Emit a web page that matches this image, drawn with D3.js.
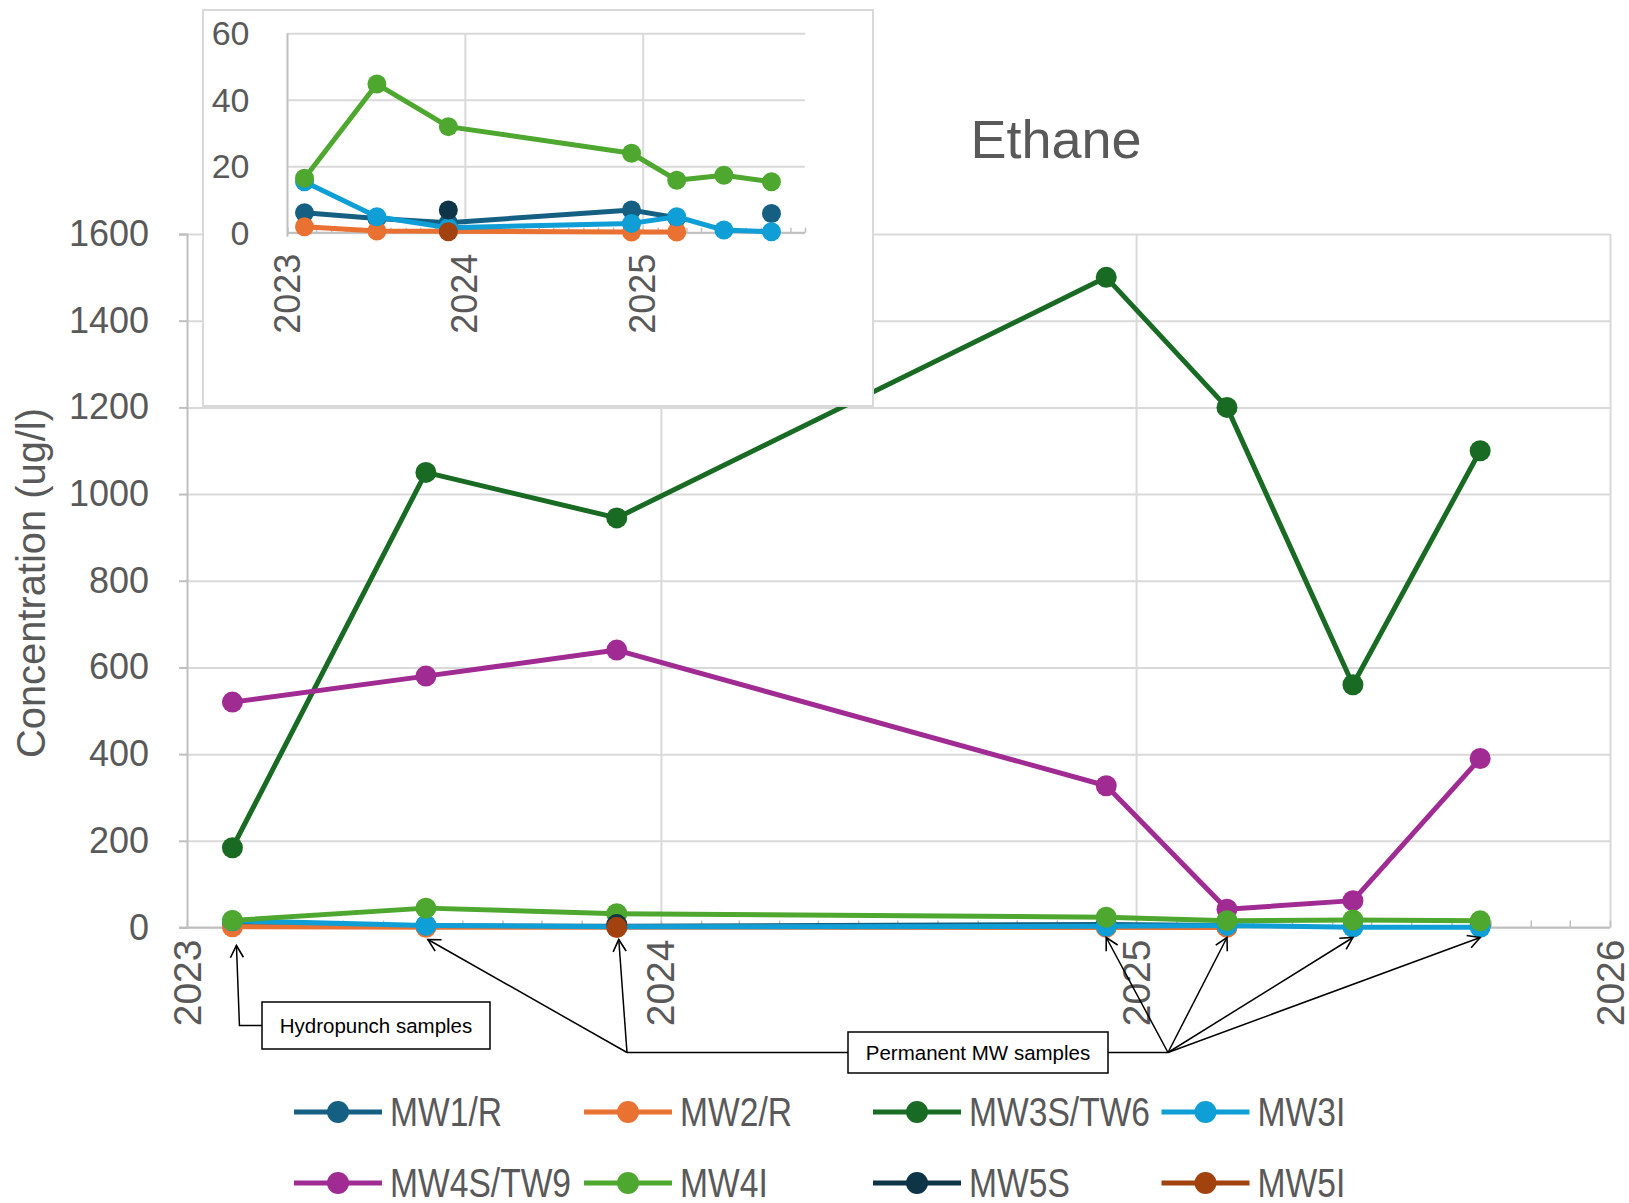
<!DOCTYPE html>
<html>
<head>
<meta charset="utf-8">
<script src="https://cdn.jsdelivr.net/npm/d3@7"></script>
<style>
  html, body { margin: 0; padding: 0; background: #ffffff; }
  svg { display: block; }
</style>
</head>
<body>
<svg id="chart" width="1629" height="1203"></svg>
<script>
// ---- Data -------------------------------------------------------------
const sampleDates = ["2023-02-05", "2023-07-04", "2023-11-28", "2024-12-09", "2025-03-12", "2025-06-17", "2025-09-23"];

const seriesNames  = ["MW1/R", "MW2/R", "MW3S/TW6", "MW3I", "MW4S/TW9", "MW4I", "MW5S", "MW5I"];
const seriesColors = ["#156082", "#E97132", "#196B24", "#0F9ED5", "#A02B93", "#4EA72E", "#0E3447", "#A1420F"];

// Ethane concentrations (ug/l); null = not sampled
const mw1r   = [6, 4.3, 3, 6.8, 4.5, null, 5.8];
const mw2r   = [1.8, 0.5, 0.4, 0.2, 0.2, null, null];
const mw3s   = [184, 1050, 945, 1500, 1200, 560, 1100];
const mw3i   = [15.3, 4.8, 1.5, 2.8, 4.8, 0.8, 0.3];
const mw4s   = [520, 580, 640, 327, 42, 62, 390];
const mw4i   = [16.4, 44.7, 31.9, 23.9, 15.8, 17.3, 15.3];
const mw5s   = [null, null, 6.8, null, null, null, null];
const mw5i   = [null, null, 0.3, null, null, null, null];

// wells shown in the low-concentration inset
const insetSeries = ["MW1/R", "MW2/R", "MW3I", "MW4I", "MW5S", "MW5I"];

const mainYTicks  = [0, 200, 400, 600, 800, 1000, 1200, 1400, 1600];
const mainXTicks  = ["2023", "2024", "2025", "2026"];
const insetYTicks = [0, 20, 40, 60];
const insetXTicks = ["2023", "2024", "2025"];

const chartTitle = "Ethane";
const yTitle = "Concentration (ug/l)";
const hydroLabel = "Hydropunch samples";
const permLabel = "Permanent MW samples";
const hydroIdx = [0];
const permIdx = [1, 2, 3, 4, 5, 6];

// ---- Build series -------------------------------------------------------
const parse = d3.timeParse("%Y-%m-%d");
const dates = sampleDates.map(parse);
const valueArrays = [mw1r, mw2r, mw3s, mw3i, mw4s, mw4i, mw5s, mw5i];
const series = seriesNames.map((name, i) => ({
  name, color: seriesColors[i],
  points: dates.map((d, j) => ({ date: d, v: valueArrays[i][j] }))
}));

const svg = d3.select("#chart");
const defs = svg.append("defs");
const GRID = "#d9d9d9", AXIS = "#bfbfbf", TXT = "#595959";
const FONT = "'Liberation Sans', Arial, sans-serif";

// ---- Main chart ----------------------------------------------------------
const main = { left: 187, right: 1610, top: 234, bottom: 927.5 };
const x = d3.scaleTime()
  .domain([new Date(2023, 0, 1), new Date(2026, 0, 1)])
  .range([main.left, main.right]);
const y = d3.scaleLinear().domain([0, 1600]).range([main.bottom, main.top]);

const gMain = svg.append("g");

// horizontal gridlines
gMain.append("g").attr("transform", `translate(${main.left},0)`)
  .call(d3.axisLeft(y).tickValues(mainYTicks).tickSize(-(main.right - main.left)).tickFormat(""))
  .call(g => g.select(".domain").remove())
  .call(g => g.selectAll("line").attr("stroke", GRID).attr("stroke-width", 2));

// vertical year gridlines
const yearDates = mainXTicks.map(t => new Date(+t, 0, 1));
gMain.append("g").attr("transform", `translate(0,${main.bottom})`)
  .call(d3.axisBottom(x).tickValues(yearDates.slice(1)).tickSize(-(main.bottom - main.top)).tickFormat(""))
  .call(g => g.select(".domain").remove())
  .call(g => g.selectAll("line").attr("stroke", GRID).attr("stroke-width", 2));

// monthly minor ticks on the x axis (pointing inward)
gMain.append("g").attr("transform", `translate(0,${main.bottom})`)
  .call(d3.axisBottom(x).ticks(d3.timeMonth.every(1)).tickSize(-7).tickFormat(""))
  .call(g => g.select(".domain").remove())
  .call(g => g.selectAll("line").attr("stroke", AXIS).attr("stroke-width", 1.5));

// y axis line + outward ticks + labels
gMain.append("g").attr("transform", `translate(${main.left},0)`)
  .call(d3.axisLeft(y).tickValues(mainYTicks).tickSize(8).tickPadding(30).tickFormat(d3.format("d")))
  .call(g => g.select(".domain").attr("stroke", AXIS).attr("stroke-width", 2))
  .call(g => g.selectAll("line").attr("stroke", AXIS).attr("stroke-width", 2))
  .call(g => g.selectAll("text").attr("fill", TXT).attr("font-size", 36).attr("font-family", FONT));

// x axis line
gMain.append("line")
  .attr("x1", main.left - 8).attr("x2", main.right)
  .attr("y1", y(0)).attr("y2", y(0))
  .attr("stroke", AXIS).attr("stroke-width", 2);

// x tick labels (rotated)
gMain.append("g").selectAll("text").data(mainXTicks).join("text")
  .attr("transform", t => `translate(${x(new Date(+t, 0, 1))},${main.bottom + 12}) rotate(-90)`)
  .attr("text-anchor", "end").attr("dominant-baseline", "central")
  .attr("fill", TXT).attr("font-size", 39).attr("font-family", FONT)
  .text(t => t);

// y axis title
svg.append("text")
  .attr("transform", `translate(31,583) rotate(-90)`)
  .attr("text-anchor", "middle").attr("dominant-baseline", "central")
  .attr("fill", TXT).attr("font-size", 40).attr("font-family", FONT)
  .attr("textLength", 350).attr("lengthAdjust", "spacingAndGlyphs")
  .text(yTitle);

// chart title
svg.append("text")
  .attr("x", 1056).attr("y", 158)
  .attr("text-anchor", "middle")
  .attr("fill", TXT).attr("font-size", 54).attr("font-family", FONT)
  .text(chartTitle);

// lines clipped to the plot area; markers drawn only for values inside the y range
function drawSeries(g, list, xs, ys, lineW, r, clipId) {
  const [y0, y1] = ys.domain();
  const line = d3.line().defined(d => d.v != null).x(d => xs(d.date)).y(d => ys(d.v));
  list.forEach(s => {
    const gs = g.append("g");
    gs.append("path").datum(s.points)
      .attr("d", line).attr("fill", "none")
      .attr("stroke", s.color).attr("stroke-width", lineW)
      .attr("stroke-linejoin", "round")
      .attr("clip-path", clipId ? `url(#${clipId})` : null);
    gs.selectAll("circle").data(s.points.filter(d => d.v != null && d.v >= y0 && d.v <= y1)).join("circle")
      .attr("cx", d => xs(d.date)).attr("cy", d => ys(d.v)).attr("r", r)
      .attr("fill", s.color);
  });
}
drawSeries(gMain.append("g"), series, x, y, 5, 10.5, null);

// ---- Annotations -----------------------------------------------------------
defs.append("marker").attr("id", "arrow")
  .attr("viewBox", "-14 -8 16 16").attr("refX", 0).attr("refY", 0)
  .attr("markerWidth", 16).attr("markerHeight", 16)
  .attr("markerUnits", "userSpaceOnUse").attr("orient", "auto")
  .append("path").attr("d", "M-12,-6.5 L0,0 L-12,6.5")
  .attr("fill", "none").attr("stroke", "#000").attr("stroke-width", 1.6);

const gAnn = svg.append("g");
const tipY = y(0) + 14;

// Hydropunch callout
const hBox = { x: 262, y: 1002, w: 228, h: 47 };
hydroIdx.forEach(i => {
  const tx = x(dates[i]) + 4;
  gAnn.append("path")
    .attr("d", `M${hBox.x},${hBox.y + hBox.h / 2} H${tx + 3} L${tx},${tipY + 4}`)
    .attr("fill", "none").attr("stroke", "#000").attr("stroke-width", 1.5)
    .attr("marker-end", "url(#arrow)");
});
gAnn.append("rect").attr("x", hBox.x).attr("y", hBox.y).attr("width", hBox.w).attr("height", hBox.h)
  .attr("fill", "#fff").attr("stroke", "#000").attr("stroke-width", 1.5);
gAnn.append("text").attr("x", hBox.x + hBox.w / 2).attr("y", hBox.y + hBox.h / 2)
  .attr("text-anchor", "middle").attr("dominant-baseline", "central")
  .attr("font-size", 20.5).attr("font-family", FONT).attr("fill", "#000")
  .text(hydroLabel);

// Permanent MW callout
const pBox = { x: 848, y: 1032, w: 260, h: 41 };
const midY = pBox.y + pBox.h / 2;
const leftJ = 627, rightJ = 1168;
const leftIdx = permIdx.filter(i => x(dates[i]) < pBox.x);
const rightIdx = permIdx.filter(i => x(dates[i]) >= pBox.x);
gAnn.append("path").attr("d", `M${pBox.x},${midY} H${leftJ}`)
  .attr("stroke", "#000").attr("stroke-width", 1.5);
gAnn.append("path").attr("d", `M${pBox.x + pBox.w},${midY} H${rightJ}`)
  .attr("stroke", "#000").attr("stroke-width", 1.5);
leftIdx.forEach(i => {
  gAnn.append("line").attr("x1", leftJ).attr("y1", midY)
    .attr("x2", x(dates[i]) + 2).attr("y2", tipY - 2)
    .attr("stroke", "#000").attr("stroke-width", 1.5).attr("marker-end", "url(#arrow)");
});
rightIdx.forEach(i => {
  gAnn.append("line").attr("x1", rightJ).attr("y1", midY)
    .attr("x2", x(dates[i])).attr("y2", tipY - 4)
    .attr("stroke", "#000").attr("stroke-width", 1.5).attr("marker-end", "url(#arrow)");
});
gAnn.append("rect").attr("x", pBox.x).attr("y", pBox.y).attr("width", pBox.w).attr("height", pBox.h)
  .attr("fill", "#fff").attr("stroke", "#000").attr("stroke-width", 1.5);
gAnn.append("text").attr("x", pBox.x + pBox.w / 2).attr("y", midY)
  .attr("text-anchor", "middle").attr("dominant-baseline", "central")
  .attr("font-size", 20.5).attr("font-family", FONT).attr("fill", "#000")
  .text(permLabel);

// ---- Legend ----------------------------------------------------------------
const legCols = [294, 584, 873, 1161.5];
const legRows = [1112, 1183];
const gLeg = svg.append("g");
series.forEach((s, i) => {
  const lx = legCols[i % 4], ly = legRows[Math.floor(i / 4)];
  const g = gLeg.append("g").attr("transform", `translate(${lx},${ly})`);
  g.append("line").attr("x1", 0).attr("x2", 88).attr("y1", 0).attr("y2", 0)
    .attr("stroke", s.color).attr("stroke-width", 5);
  g.append("circle").attr("cx", 44).attr("cy", 0).attr("r", 11).attr("fill", s.color);
  const t = g.append("text").attr("x", 96).attr("y", 0).attr("dominant-baseline", "central")
    .attr("fill", TXT).attr("font-size", 40).attr("font-family", FONT)
    .text(s.name);
  // condensed legend lettering
  const w = t.node().getComputedTextLength();
  t.attr("textLength", w * 0.84).attr("lengthAdjust", "spacingAndGlyphs");
});

// ---- Inset (zoomed 0-60 ug/l) ------------------------------------------------
const inset = { bx: 203, by: 10, bw: 670, bh: 396, left: 287.5, right: 805, top: 33.2, bottom: 232.7 };
const gIn = svg.append("g");
gIn.append("rect").attr("x", inset.bx).attr("y", inset.by).attr("width", inset.bw).attr("height", inset.bh)
  .attr("fill", "#fff").attr("stroke", GRID).attr("stroke-width", 2);

defs.append("clipPath").attr("id", "inset-clip")
  .append("rect").attr("x", inset.left).attr("y", inset.top)
  .attr("width", inset.right - inset.left).attr("height", inset.bottom - inset.top + 4);

const xi = d3.scaleTime()
  .domain([new Date(2023, 0, 1), new Date(2025, 11, 1)])
  .range([inset.left, inset.right]);
const yi = d3.scaleLinear().domain([0, 60]).range([inset.bottom, inset.top]);

gIn.append("g").attr("transform", `translate(${inset.left},0)`)
  .call(d3.axisLeft(yi).tickValues(insetYTicks).tickSize(-(inset.right - inset.left)).tickFormat(""))
  .call(g => g.select(".domain").remove())
  .call(g => g.selectAll("line").attr("stroke", GRID).attr("stroke-width", 2));

const insetYears = insetXTicks.map(t => new Date(+t, 0, 1));
gIn.append("g").attr("transform", `translate(0,${inset.bottom})`)
  .call(d3.axisBottom(xi).tickValues(insetYears.slice(1)).tickSize(-(inset.bottom - inset.top)).tickFormat(""))
  .call(g => g.select(".domain").remove())
  .call(g => g.selectAll("line").attr("stroke", GRID).attr("stroke-width", 2));

gIn.append("g").attr("transform", `translate(0,${inset.bottom})`)
  .call(d3.axisBottom(xi).ticks(d3.timeMonth.every(1)).tickSize(-5).tickFormat(""))
  .call(g => g.select(".domain").remove())
  .call(g => g.selectAll("line").attr("stroke", AXIS).attr("stroke-width", 1.5));

gIn.append("line").attr("x1", inset.left).attr("x2", inset.left)
  .attr("y1", inset.top).attr("y2", inset.bottom + 4)
  .attr("stroke", AXIS).attr("stroke-width", 2);
gIn.append("line").attr("x1", inset.left).attr("x2", inset.right)
  .attr("y1", inset.bottom).attr("y2", inset.bottom)
  .attr("stroke", AXIS).attr("stroke-width", 2);

gIn.append("g").selectAll("text").data(insetYTicks).join("text")
  .attr("x", inset.left - 38).attr("y", d => yi(d))
  .attr("text-anchor", "end").attr("dominant-baseline", "central")
  .attr("fill", TXT).attr("font-size", 34).attr("font-family", FONT)
  .text(d => d);

gIn.append("g").selectAll("text").data(insetXTicks).join("text")
  .attr("transform", t => `translate(${xi(new Date(+t, 0, 1))},${inset.bottom + 21}) rotate(-90)`)
  .attr("text-anchor", "end").attr("dominant-baseline", "central")
  .attr("fill", TXT).attr("font-size", 36).attr("font-family", FONT)
  .text(t => t);

drawSeries(gIn.append("g"), series.filter(s => insetSeries.includes(s.name)), xi, yi, 5, 9.5, "inset-clip");
</script>
</body>
</html>
